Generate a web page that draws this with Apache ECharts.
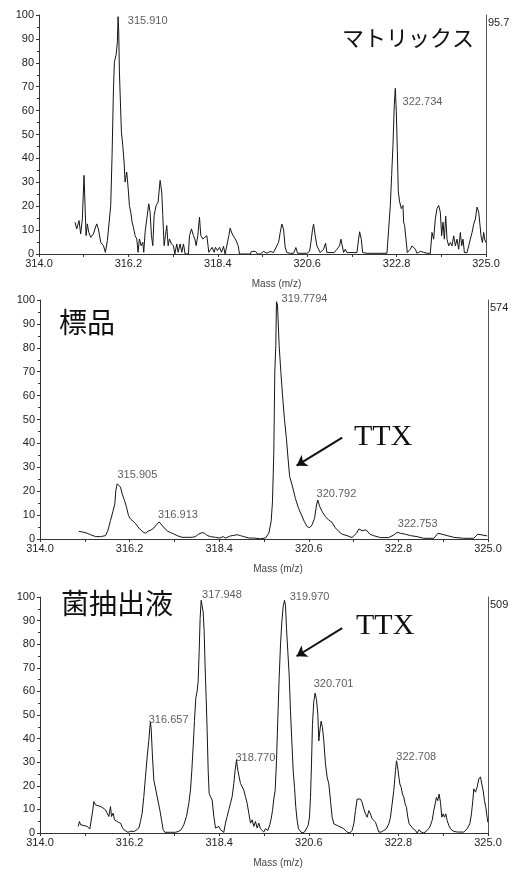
<!DOCTYPE html>
<html><head><meta charset="utf-8">
<script src="https://cdn.jsdelivr.net/npm/echarts@6/dist/echarts.min.js"></script>
<style>html,body{margin:0;padding:0;background:#fff}#c{width:514px;height:869px}</style>
</head><body><div id="c"></div>
<script>
// ---- data ----
const xTickLabels = [314.0, 316.2, 318.4, 320.6, 322.8, 325.0];
const xTickMarks = [314.0, 315.1, 316.2, 317.3, 318.4, 319.5, 320.6, 321.7, 322.8, 323.9, 325.0];
const panelTitles = ['マトリックス', '標品', '菌抽出液'];
const baseIntensity = ['95.7', '574', '509'];
const axisName = 'Mass (m/z)';

const matrixSpectrum = [
[314.887,13.3],[314.928,10.5],[314.985,14.0],[315.026,8.4],[315.067,14.7],[315.108,32.9],[315.133,20.3],[315.158,7.7],[315.190,12.6],[315.223,9.1],[315.273,7.0],[315.338,8.4],[315.420,12.6],[315.461,10.5],[315.519,4.9],[315.585,3.5],[315.634,0.7],[315.683,5.6],[315.724,6.3],[315.765,20.3],[315.798,41.3],[315.831,67.8],[315.855,80.4],[315.897,83.2],[315.929,88.8],[315.946,99.3],[315.962,93.0],[315.979,76.2],[316.003,63.6],[316.028,51.0],[316.061,45.5],[316.094,38.5],[316.118,30.1],[316.159,34.3],[316.192,28.0],[316.225,20.3],[316.258,17.5],[316.291,13.3],[316.323,11.2],[316.365,7.7],[316.406,6.3],[316.438,0.7],[316.471,6.3],[316.512,3.5],[316.553,4.9],[316.578,0.7],[316.611,9.1],[316.652,14.7],[316.701,21.0],[316.734,17.5],[316.767,7.7],[316.800,3.5],[316.833,16.1],[316.882,20.3],[316.931,21.7],[316.980,30.8],[317.021,25.9],[317.046,16.1],[317.079,3.5],[317.112,7.7],[317.144,11.9],[317.177,3.5],[317.210,6.3],[317.259,4.2],[317.309,3.5],[317.342,0],[317.391,4.2],[317.424,0.7],[317.473,4.2],[317.514,0.7],[317.555,4.2],[317.596,0],[317.678,0],[317.703,7.7],[317.752,10.5],[317.801,7.7],[317.834,6.3],[317.867,3.5],[317.908,7.7],[317.949,15.4],[317.982,7.7],[318.031,6.3],[318.080,6.3],[318.130,7.7],[318.179,0.7],[318.212,0],[318.261,2.8],[318.310,0.7],[318.343,2.8],[318.392,1.4],[318.442,2.8],[318.491,0.7],[318.540,3.2],[318.581,0],[318.622,0],[318.672,7.7],[318.704,10.8],[318.754,8.4],[318.803,7.0],[318.852,5.6],[318.901,3.5],[318.934,0],[319.197,0],[319.230,1.1],[319.279,0.7],[319.328,1.1],[319.378,0],
[319.443,0],[319.525,1.1],[319.607,0.3],[319.689,1.1],[319.771,0.6],[319.853,3.4],[319.895,4.8],[319.936,9.0],[319.977,12.5],[320.018,10.4],[320.059,2.7],[320.100,0.6],[320.182,0.3],[320.264,0.3],[320.321,2.7],[320.363,0.3],[320.592,0.3],[320.658,1.1],[320.691,4.8],[320.732,10.4],[320.757,12.5],[320.798,7.6],[320.839,3.4],[320.880,3.4],[320.921,0.6],[320.962,0.6],[321.003,2.0],[321.052,4.5],[321.085,0.6],[321.266,0.6],[321.331,2.0],[321.397,3.4],[321.430,6.2],[321.463,3.4],[321.496,0.6],[321.537,2.0],[321.578,0.6],[321.824,0.6],[321.865,6.2],[321.890,9.3],[321.931,6.2],[321.964,0.6],[322.070,0.3],[322.563,0.3],[322.604,1.1],[322.645,20.3],[322.678,32.9],[322.711,45.5],[322.743,62.4],[322.768,69.3],[322.793,59.6],[322.817,44.1],[322.842,26.0],[322.875,21.8],[322.916,19.0],[322.957,20.3],[322.973,13.3],[322.998,11.9],[323.031,6.2],[323.064,0.6],[323.096,0.3],[323.137,2.0],[323.179,3.4],[323.220,4.1],[323.261,2.0],[323.302,0.3],[323.384,1.1],[323.466,0.7],[323.548,0.3],[323.630,0.3],[323.671,9.0],[323.712,6.2],[323.753,14.7],[323.794,19.0],[323.835,20.3],[323.876,17.5],[323.909,7.6],[323.942,13.3],[323.975,6.2],[324.008,15.8],[324.041,6.2],[324.082,3.4],[324.123,4.8],[324.164,3.4],[324.205,7.6],[324.246,3.4],[324.287,6.2],[324.328,2.0],[324.369,9.0],[324.402,3.4],[324.435,6.2],[324.468,0.6],[324.534,0.6],[324.574,3.4],[324.615,6.2],[324.657,9.0],[324.698,12.5],[324.739,14.7],[324.780,19.6],[324.821,17.5],[324.845,13.3],[324.878,7.6],[324.911,4.8],[324.944,9.0],[324.968,6.2],[324.993,4.8]
];

const standardSpectrum = [
[314.954,3.2],[315.076,2.8],[315.158,2.4],[315.240,1.8],[315.363,1.0],[315.485,1.0],[315.608,1.4],[315.666,3.5],[315.731,7.7],[315.796,11.9],[315.837,14.7],[315.862,20.3],[315.895,23.1],[315.944,23.4],[315.976,21.7],[316.017,18.9],[316.075,16.1],[316.124,13.3],[316.173,9.8],[316.222,8.4],[316.287,7.4],[316.353,6.3],[316.427,4.6],[316.508,3.2],[316.590,2.4],[316.648,3.2],[316.729,3.8],[316.795,4.6],[316.860,6.0],[316.926,7.1],[316.958,7.0],[317.008,5.5],[317.073,4.2],[317.139,3.2],[317.204,2.7],[317.286,2.1],[317.368,1.4],[317.490,0.7],[317.613,0.7],[317.736,0.7],[317.818,1.0],[317.899,2.1],[317.981,2.7],[318.039,2.4],[318.104,1.5],[318.186,1.0],[318.309,0.7],[318.415,0.4],[318.497,1.0],[318.554,0.4],[318.677,1.3],[318.759,1.5],[318.841,1.8],[318.922,1.4],[319.004,1.0],[319.127,0.4],[319.250,0.4],[319.413,0.1],[319.536,0.4],
[319.618,2.4],[319.675,7.3],[319.708,15.6],[319.741,36.5],[319.765,70.0],[319.790,81.0],[319.806,99.3],[319.831,98.0],[319.872,81.0],[319.913,70.0],[319.954,60.3],[320.000,50.5],[320.050,42.1],[320.090,33.8],[320.130,26.1],[320.190,22.6],[320.270,17.0],[320.350,12.8],[320.420,10.0],[320.490,7.3],[320.560,5.2],[320.620,4.7],[320.680,5.9],[320.740,8.6],[320.790,14.2],[320.820,16.3],[320.870,13.5],[320.930,11.4],[321.010,9.3],[321.090,7.9],[321.170,7.0],[321.250,4.7],[321.340,3.1],[321.420,2.0],[321.540,1.4],[321.660,0.6],[321.770,2.4],[321.830,4.2],[321.910,3.5],[322.010,3.8],[322.100,2.0],[322.190,1.4],[322.360,0.6],[322.560,0.6],[322.690,1.7],[322.770,2.8],[322.850,2.4],[322.970,2.0],[323.100,1.4],[323.260,1.0],[323.420,0.3],[323.670,0.3],[323.770,2.4],[323.870,2.0],[324.000,1.4],[324.160,0.7],[324.400,0.3],[324.650,0.3],[324.750,2.0],[324.850,1.7],[324.980,1.3]
];

const extractSpectrum = [
[314.937,2.8],[314.970,4.9],[314.995,3.5],[315.035,3.9],[315.093,3.1],[315.158,2.8],[315.224,1.7],[315.265,1.7],[315.297,9.8],[315.322,13.3],[315.363,11.9],[315.404,12.6],[315.445,11.5],[315.485,12.3],[315.526,10.9],[315.567,11.5],[315.608,9.8],[315.649,10.5],[315.690,7.0],[315.731,11.2],[315.756,7.0],[315.796,8.4],[315.829,5.6],[315.878,4.9],[315.927,4.5],[315.977,4.2],[316.017,2.5],[316.058,1.4],[316.099,0.7],[316.157,0.3],[316.222,0.7],[316.263,0.3],[316.320,0.7],[316.369,1.4],[316.427,2.1],[316.467,4.9],[316.508,8.4],[316.549,15.4],[316.590,23.8],[316.631,32.2],[316.672,39.2],[316.697,44.8],[316.713,46.9],[316.730,44.1],[316.762,32.2],[316.795,22.4],[316.844,18.2],[316.893,14.0],[316.942,9.8],[316.983,5.6],[317.024,1.4],[317.065,0.3],[317.204,0.3],[317.327,0.3],[317.409,0.7],[317.466,1.4],[317.531,3.5],[317.597,7.0],[317.654,12.6],[317.695,18.2],[317.728,26.6],[317.760,36.4],[317.793,47.6],[317.826,57.3],[317.859,60.1],[317.883,64.3],[317.908,76.9],[317.932,90.9],[317.957,98.6],[317.981,99.3],[318.006,93.7],[318.031,85.3],[318.055,69.9],[318.080,57.3],[318.104,43.4],[318.129,26.6],[318.153,16.8],[318.186,15.4],[318.227,14.0],[318.268,7.0],[318.309,2.1],[318.350,1.4],[318.391,2.8],[318.432,1.4],[318.473,0.7],[318.513,0.3],[318.554,4.2],[318.595,7.0],[318.636,9.8],[318.677,12.6],[318.718,15.4],[318.759,21.0],[318.791,26.6],[318.824,30.8],[318.857,26.6],[318.890,23.8],[318.922,21.0],[318.963,20.3],[319.004,18.2],[319.045,15.4],[319.086,12.6],[319.127,8.4],[319.168,4.2],[319.209,5.6],[319.250,2.8],[319.291,4.9],[319.332,2.1],[319.373,4.2],
[319.414,1.8],[319.455,1.1],[319.496,0.4],[319.537,1.8],[319.594,1.1],[319.643,3.6],[319.676,6.0],[319.709,9.5],[319.741,14.4],[319.774,18.0],[319.807,30.6],[319.840,48.8],[319.872,65.6],[319.905,79.7],[319.938,89.5],[319.970,95.8],[320.003,98.6],[320.028,96.5],[320.052,86.7],[320.085,76.9],[320.118,67.0],[320.150,51.6],[320.183,39.0],[320.216,26.4],[320.249,19.4],[320.281,10.9],[320.314,5.3],[320.347,1.8],[320.380,1.1],[320.429,0],[320.494,0.4],[320.543,0],[320.584,3.2],[320.617,6.7],[320.641,15.1],[320.666,29.2],[320.690,46.0],[320.723,55.8],[320.756,59.3],[320.789,56.5],[320.822,50.2],[320.846,39.0],[320.871,43.2],[320.903,47.4],[320.936,44.6],[320.969,39.0],[321.010,29.2],[321.051,23.6],[321.092,20.8],[321.132,13.9],[321.173,6.7],[321.214,3.9],[321.296,3.2],[321.378,2.5],[321.460,1.8],[321.542,0.4],[321.607,0],[321.664,1.1],[321.705,3.9],[321.746,9.5],[321.787,14.4],[321.828,15.1],[321.869,14.4],[321.910,13.0],[321.951,10.2],[321.992,8.1],[322.033,6.7],[322.074,9.5],[322.114,8.1],[322.155,6.0],[322.196,6.7],[322.237,4.6],[322.278,2.5],[322.319,0.4],[322.376,0.4],[322.442,1.1],[322.507,1.8],[322.565,3.9],[322.605,6.7],[322.646,12.3],[322.687,18.0],[322.728,26.4],[322.753,30.6],[322.777,28.5],[322.802,25.0],[322.835,20.8],[322.867,19.4],[322.900,16.5],[322.933,15.1],[322.966,12.3],[322.998,10.9],[323.031,6.7],[323.064,3.9],[323.113,3.2],[323.162,1.8],[323.219,1.1],[323.260,0],[323.309,1.4],[323.358,0.4],[323.424,0],[323.506,1.1],[323.571,2.5],[323.628,5.3],[323.669,9.5],[323.702,12.3],[323.735,15.1],[323.767,13.7],[323.800,16.5],[323.833,13.0],[323.866,6.7],[323.898,8.1],[323.931,6.7],[323.964,8.1],[323.997,5.3],[324.038,3.2],[324.079,1.8],[324.144,0.8],[324.242,0.4],[324.406,0.4],[324.488,1.8],[324.553,3.9],[324.594,8.1],[324.627,13.7],[324.651,18.7],[324.692,17.3],[324.733,19.4],[324.774,22.9],[324.815,23.8],[324.847,20.8],[324.880,18.0],[324.913,13.7],[324.946,10.9],[324.978,6.7],[324.995,4.6]
];

// peak labels: [mass, intensity, text] (left-middle anchor of the text)
const matrixLabels = [[316.185,97.3,'315.910'],[322.948,63.8,'322.734']];
const standardLabels = [[319.93,100.4,'319.7794'],[315.903,27.0,'315.905'],[316.90,10.0,'316.913'],[320.79,18.8,'320.792'],[322.785,6.1,'322.753']];
const extractLabels = [[317.98,100.7,'317.948'],[320.13,100.2,'319.970'],[316.67,47.9,'316.657'],[318.80,31.8,'318.770'],[320.72,63.2,'320.701'],[322.75,32.4,'322.708']];

// TTX arrows: [from, to] in [mass, intensity]
const standardArrow = [[321.42,42.4],[320.30,30.7]];
const extractArrow = [[321.42,86.8],[320.30,74.9]];

// ---- chart ----
const chart = echarts.init(document.getElementById('c'), null, {renderer:'canvas'});
const AX = '#333';
const FONT = '"Liberation Sans", Arial, sans-serif';

const grids = [
  {left:39, right:28, top:15, height:239},
  {left:40, right:26, top:300, height:239},
  {left:40, right:26, top:597, height:238}
];

function xAxisFor(i){
  return {
    type:'value', gridIndex:i, min:314, max:325,
    name: axisName, nameLocation:'middle', nameGap:25,
    nameTextStyle:{fontSize:10, color:'#444', fontFamily:FONT, padding:[0,0,0,28]},
    axisLine:{show:true, onZero:false, lineStyle:{color:AX, width:1}},
    axisTick:{show:true, length:3, customValues:xTickMarks, lineStyle:{color:AX}},
    axisLabel:{customValues:xTickLabels, margin:4, fontSize:11, color:'#222', fontFamily:FONT, formatter:v=>v.toFixed(1)},
    splitLine:{show:false}
  };
}
function yAxisLeft(i){
  return {
    type:'value', gridIndex:i, min:0, max:100, interval:10, position:'left',
    axisLine:{show:true, lineStyle:{color:AX, width:1}},
    axisTick:{show:true, length:3, lineStyle:{color:AX}},
    minorTick:{show:true, splitNumber:2, length:2, lineStyle:{color:AX}},
    axisLabel:{margin:5, fontSize:11, color:'#222', fontFamily:FONT},
    splitLine:{show:false}
  };
}
function yAxisRight(i){
  return {
    type:'value', gridIndex:i, min:0, max:100, position:'right',
    name: baseIntensity[i], nameLocation:'end', nameGap:-2,
    nameTextStyle:{fontSize:11, color:'#222', fontFamily:FONT, align:'left', verticalAlign:'top', padding:[0,0,0,2]},
    axisLine:{show:true, lineStyle:{color:'#555', width:1}},
    axisTick:{show:false}, axisLabel:{show:false}, splitLine:{show:false}
  };
}

function lineSeries(i, data, arrow){
  const s = {
    type:'line', xAxisIndex:i, yAxisIndex:i*2, data:data,
    symbol:'none', showSymbol:false, animation:false,
    lineStyle:{color:'#151515', width:1}
  };
  if (arrow){
    s.markLine = {
      silent:true, symbol:['none','arrow'], symbolSize:10, animation:false,
      label:{show:false},
      lineStyle:{color:'#111', width:2, type:'solid'},
      data:[[{coord:arrow[0]},{coord:arrow[1]}]]
    };
  }
  return s;
}
function labelSeries(i, data){
  return {
    type:'scatter', xAxisIndex:i, yAxisIndex:i*2, data:data, clip:false,
    symbolSize:0, silent:true, animation:false,
    label:{show:true, position:'right', distance:0, fontSize:11, color:'#333', fontFamily:FONT,
      formatter:p=>p.data[2]}
  };
}

const option = {
  backgroundColor:'#fff',
  animation:false,
  grid: grids,
  xAxis: [xAxisFor(0), xAxisFor(1), xAxisFor(2)],
  yAxis: [yAxisLeft(0), yAxisRight(0), yAxisLeft(1), yAxisRight(1), yAxisLeft(2), yAxisRight(2)],
  series: [
    lineSeries(0, matrixSpectrum),
    lineSeries(1, standardSpectrum, standardArrow),
    lineSeries(2, extractSpectrum, extractArrow),
    labelSeries(0, matrixLabels),
    labelSeries(1, standardLabels),
    labelSeries(2, extractLabels)
  ],
  graphic: [
    {type:'text', left:342, top:27, style:{text:panelTitles[0], font:'22px "Noto Sans CJK JP"', fill:'#111'}},
    {type:'text', left:59, top:308, style:{text:panelTitles[1], font:'28px "Noto Sans CJK JP"', fill:'#111'}},
    {type:'text', left:61, top:589, style:{text:panelTitles[2], font:'28px "Noto Sans CJK JP"', fill:'#111'}},
    {type:'text', left:354, top:422, style:{text:'TTX', font:'30px "Liberation Serif", "Times New Roman", serif', fill:'#111'}},
    {type:'text', left:356, top:611, style:{text:'TTX', font:'30px "Liberation Serif", "Times New Roman", serif', fill:'#111'}}
  ]
};
chart.setOption(option);
</script>
</body></html>
